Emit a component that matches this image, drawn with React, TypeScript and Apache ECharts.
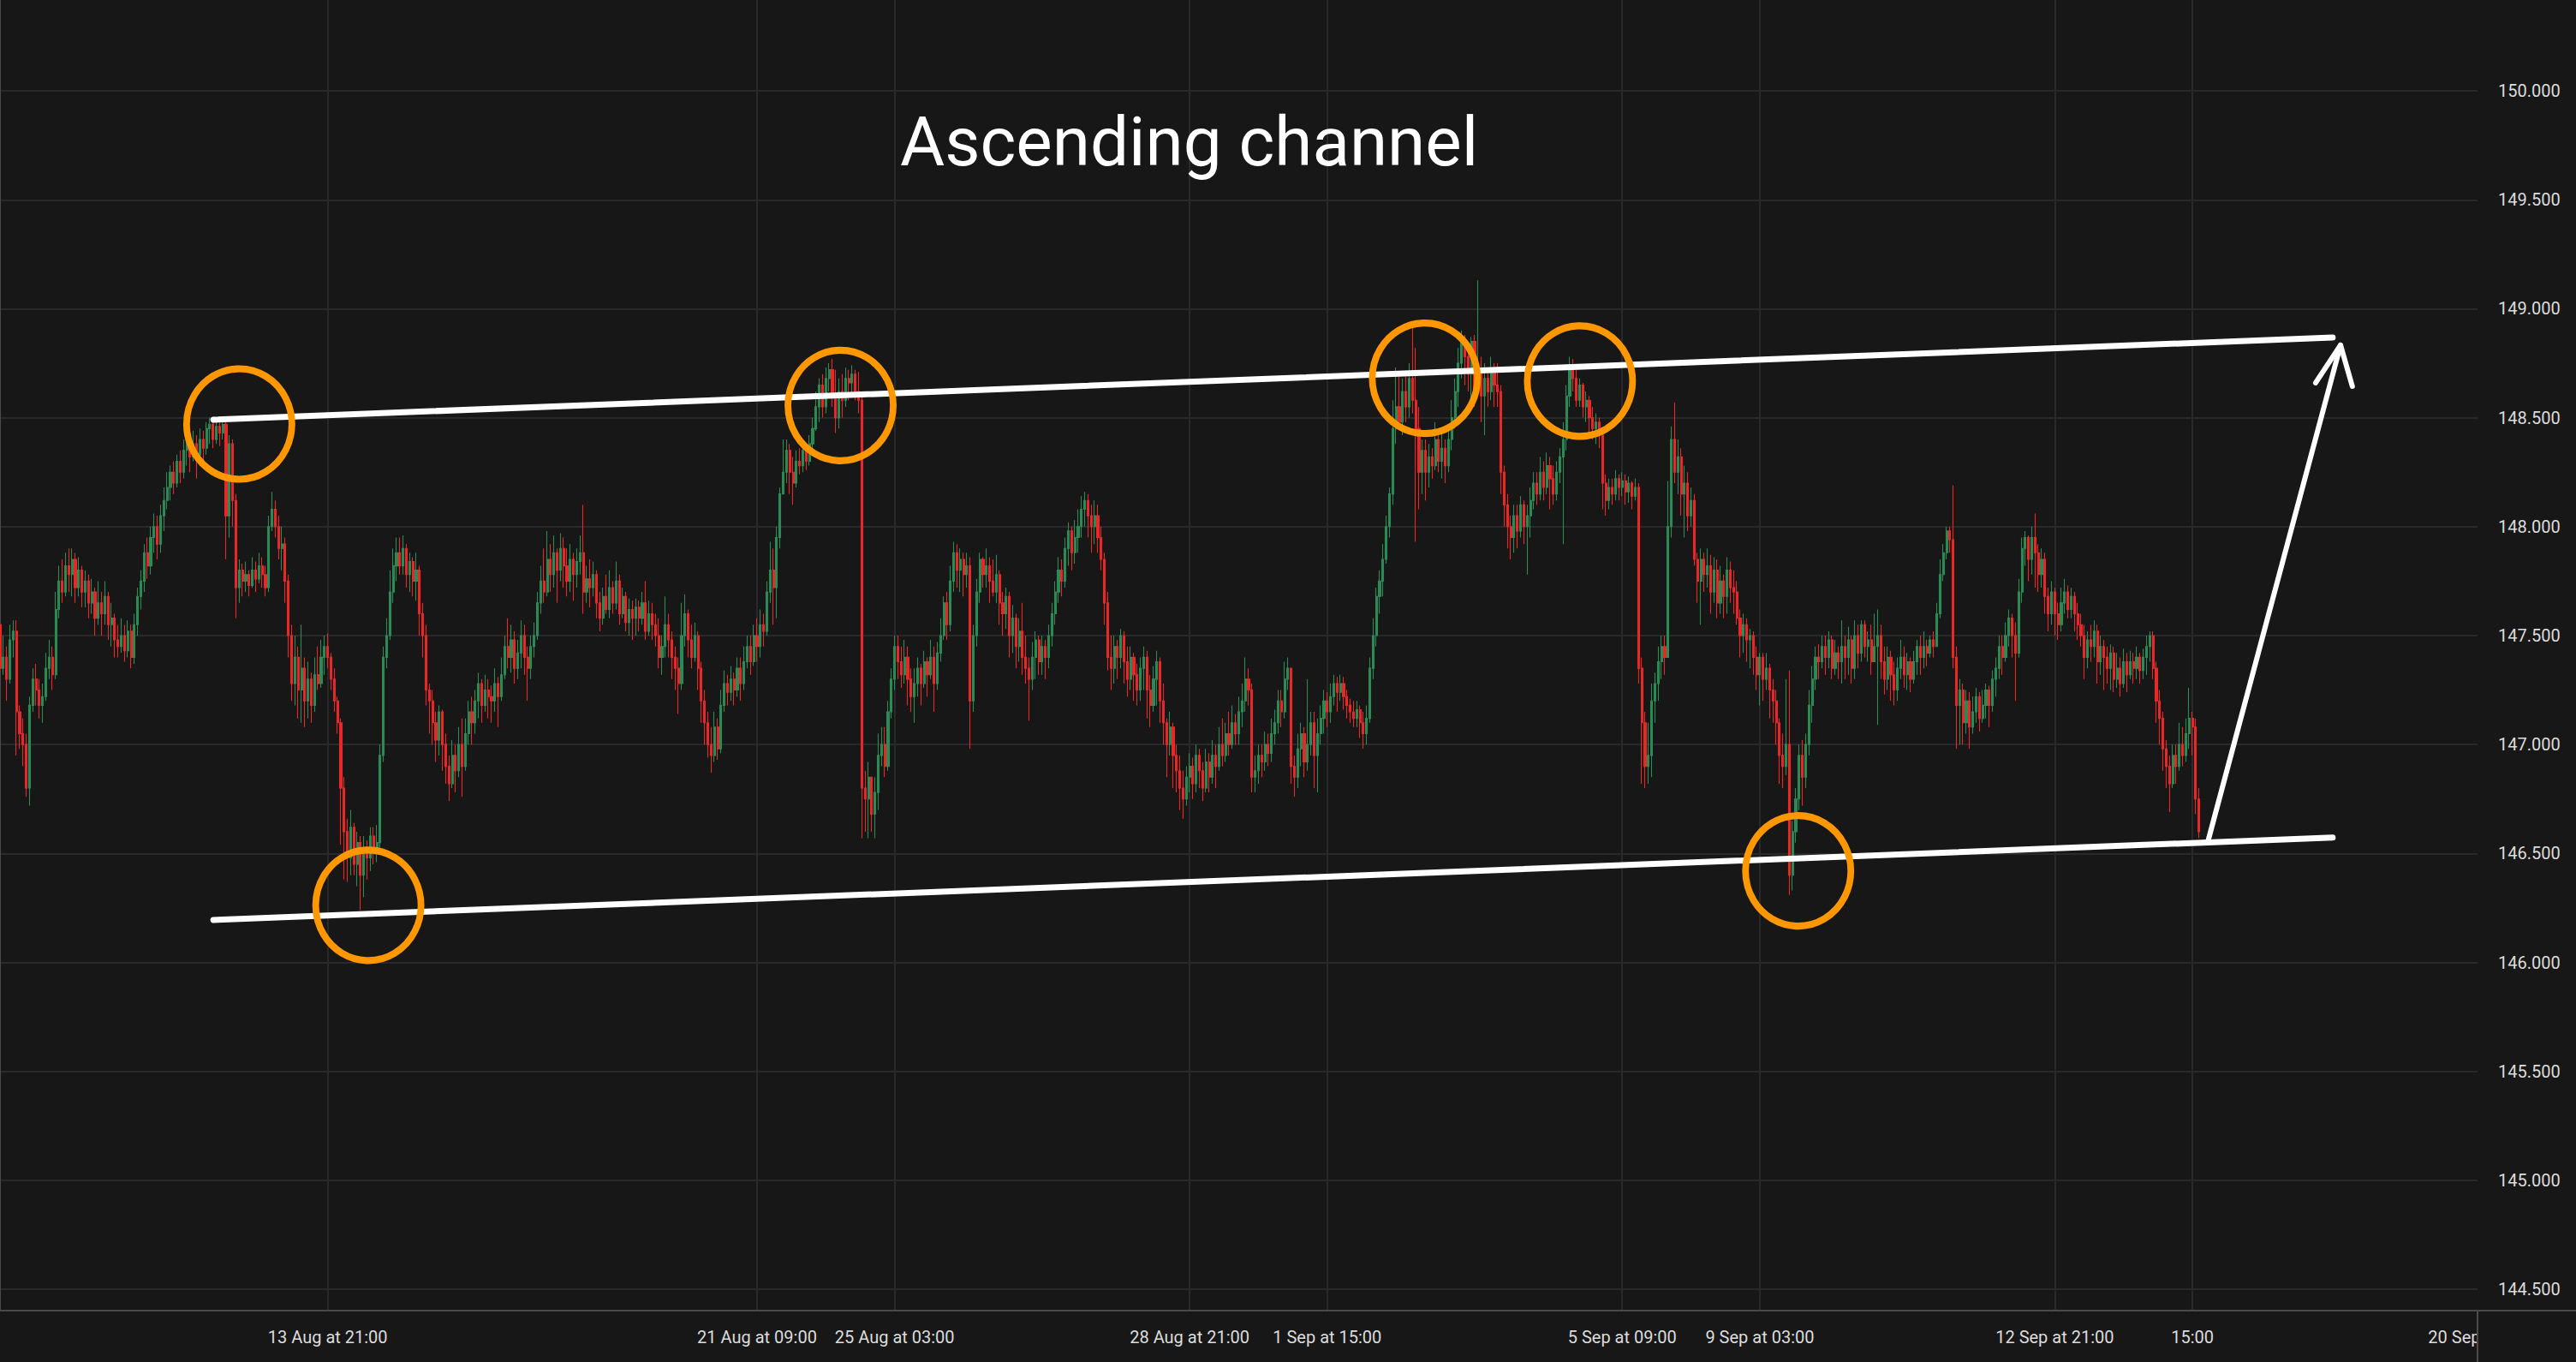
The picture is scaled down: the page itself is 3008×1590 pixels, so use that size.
import React, { useEffect, useRef } from 'react';
import * as echarts from 'echarts';

// Hourly candles. Each triple = close, high, low in hundredths of a yen above PRICE_BASE.
// The open of each candle is the previous candle's close.
const PRICE_BASE = 146;
const FIRST_OPEN = 155;

const chunk1 = [
  135,157,128, 140,150,132, 130,145,120, 148,155,128, 152,157,140, 115,157,95, 105,118,98, 100,112,90, 80,105,76, 118,122,72,
  130,135,115, 125,137,118, 118,130,112, 122,128,110, 135,142,120, 140,148,130, 132,145,125, 162,170,130, 175,182,158, 170,185,165,
  182,188,168, 178,190,170, 185,190,168, 172,188,165, 180,186,168, 170,182,163, 175,180,163, 165,178,158, 170,176,160, 158,172,150,
  165,175,155, 160,170,150, 168,175,155, 155,170,148, 158,165,145, 148,160,140, 145,155,140, 150,158,142, 143,155,138, 152,157,140,
  140,155,135, 155,160,137, 168,172,150, 175,180,162, 188,192,170, 182,195,176, 195,200,178, 200,206,188, 192,205,185, 205,210,188,
  212,218,198, 218,225,208, 225,228,212, 220,230,215, 230,233,218, 225,235,220, 235,240,222, 240,245,228, 232,245,225, 238,244,230,
  233,242,222, 240,245,228, 236,244,230, 245,248,233, 247,250,238, 240,249,236, 246,250,238, 243,248,237, 247,250,240, 205,249,185,
  238,242,195, 212,240,200, 172,215,158, 180,185,165, 175,183,168, 178,184,170, 173,180,168, 180,186,172, 176,184,170, 182,188,174,
  178,186,172, 172,182,168, 200,205,170, 208,216,198,
];
const chunk2 = [
  200,212,195, 190,205,185, 192,200,180, 175,195,165, 150,178,140, 128,155,120, 140,150,118, 125,145,112, 135,155,110, 120,140,108,
  130,138,112, 118,133,110, 132,140,115, 128,145,125, 140,148,126, 145,150,132, 140,151,135, 130,142,125, 120,135,115, 110,122,105,
  80,112,54, 60,85,38, 48,66,37, 62,70,40, 45,64,40, 55,60,35, 40,58,24, 50,58,30, 48,56,38, 58,62,42,
  52,62,45, 55,63,46, 95,100,50, 140,145,92, 150,158,135, 170,180,148, 182,190,165, 188,195,175, 182,195,178, 190,196,178,
  178,192,172, 184,188,170, 175,186,168, 180,188,166, 160,182,150, 150,165,140, 125,155,118, 120,128,105, 110,125,100, 102,115,92,
  115,118,95, 100,116,88, 90,105,82, 82,95,74, 95,102,80, 88,100,78, 100,108,85, 90,112,76, 105,112,88, 115,120,100,
  110,122,100, 120,125,105, 128,133,112, 118,130,110, 125,132,115, 122,130,112, 120,127,110, 128,135,115, 122,131,108, 132,140,120,
  145,150,130, 140,158,135, 148,155,133, 135,152,128, 142,148,130, 150,157,135, 140,155,132, 135,145,120, 145,150,130, 150,156,140,
  165,170,148, 175,182,160, 170,190,165, 185,198,168,
];
const chunk3 = [
  178,192,170, 188,196,172, 180,190,165, 190,197,175, 182,195,172, 175,190,168, 185,192,170, 178,188,166, 184,190,172, 188,196,178,
  170,210,160, 176,182,165, 172,185,163, 178,184,168, 165,180,158, 158,170,152, 168,172,155, 162,178,160, 172,180,158, 165,175,160,
  175,184,162, 160,178,155, 168,172,158, 156,170,152, 162,167,150, 158,166,148, 163,167,150, 158,166,152, 165,170,155, 152,175,148,
  160,166,150, 155,165,148, 150,160,145, 140,158,135, 145,150,132, 155,168,140, 148,160,140, 140,152,130, 135,145,125, 128,140,114,
  150,165,125, 160,169,145, 148,162,140, 140,155,135, 150,156,138, 135,152,125, 120,138,110, 110,125,100, 100,115,94, 95,108,87,
  108,115,92, 98,112,93, 118,125,96, 128,134,115, 124,132,118, 130,136,120, 125,133,118, 135,140,122, 128,140,120, 138,145,125,
  145,150,135, 138,150,132, 150,155,136, 145,158,138, 155,162,140, 152,160,145, 170,175,150, 180,193,165, 172,190,155, 195,200,158,
  215,218,190, 225,240,215, 235,240,220, 225,238,215, 220,232,210, 230,235,218, 228,236,224, 235,238,225, 230,237,226, 238,242,228,
  245,250,235, 255,262,244, 265,268,248, 255,270,250,
];
const chunk4 = [
  268,273,252, 272,275,262, 260,277,255, 250,272,243, 262,268,245, 258,270,250, 268,273,255, 266,272,258, 270,274,260, 262,272,258,
  258,271,252, 80,262,57, 75,88,60, 85,92,57, 68,82,60, 78,85,57, 95,105,70, 100,108,90, 90,108,85, 115,120,88,
  130,135,112, 145,150,125, 138,150,130, 132,145,126, 140,148,128, 130,145,118, 122,135,115, 128,135,110, 135,140,122, 128,137,118,
  138,143,126, 132,140,122, 140,148,130, 128,145,115, 142,147,125, 150,158,138, 165,168,148, 155,170,148, 175,182,152, 188,193,170,
  180,192,172, 185,190,170, 178,188,168, 182,188,172, 120,186,98, 150,155,115, 170,176,145, 185,188,165, 178,186,172, 182,190,172,
  175,186,165, 170,185,168, 178,187,165, 165,180,155, 160,170,150, 168,172,153, 150,170,140, 158,164,142, 145,160,135, 152,158,138,
  140,165,132, 135,150,128, 130,140,111, 140,147,125, 148,152,130, 138,150,132, 145,150,132, 140,148,130, 150,155,135, 160,165,145,
  170,175,155, 180,186,165, 175,185,168, 190,195,172, 198,202,182, 188,200,180, 195,203,183, 200,208,188, 208,214,195, 212,216,200,
  205,215,195, 200,210,188, 205,212,192, 195,210,188,
];
const chunk5 = [
  185,200,180, 165,188,155, 140,170,134, 135,150,125, 145,150,128, 140,148,130, 150,153,135, 138,152,128, 130,145,122, 140,145,125,
  132,142,120, 125,137,118, 135,140,120, 140,145,125, 125,143,112, 118,132,108, 130,136,115, 138,143,118, 120,140,110, 110,128,100,
  100,112,85, 108,115,95, 95,110,80, 88,100,78, 80,95,70, 75,88,66, 85,90,72, 90,96,78, 82,94,75, 95,100,78,
  88,98,80, 80,92,74, 92,98,78, 85,96,78, 95,102,82, 90,100,80, 100,108,88, 95,112,90, 105,110,92, 100,115,95,
  110,118,98, 105,114,100, 115,122,100, 120,128,108, 130,140,115, 125,135,118, 85,128,78, 88,95,78, 95,100,82, 92,100,85,
  100,106,88, 96,105,90, 105,112,92, 110,116,100, 120,125,105, 115,125,108, 130,138,112, 135,140,125, 90,130,82, 85,95,76,
  98,105,80, 105,110,90, 92,108,85, 100,130,88, 110,115,95, 95,115,80, 105,112,78, 112,118,100, 120,125,105, 115,124,108,
  122,128,110, 128,132,118, 124,131,115, 128,132,120, 122,131,116, 118,125,112, 115,121,110, 112,120,108, 116,120,108, 110,118,103,
  105,115,98, 112,118,100, 135,140,110, 150,158,130,
];
const chunk6 = [
  168,172,145, 175,180,160, 185,192,168, 200,205,183, 215,218,195, 245,258,210, 255,273,238, 248,270,245, 262,268,242, 255,270,248,
  268,275,250, 258,292,252, 245,282,193, 225,255,208, 235,240,215, 225,240,212, 232,238,218, 228,236,222, 240,248,226, 230,242,225,
  236,245,222, 228,240,220, 240,245,225, 250,258,235, 262,268,245, 275,282,255, 285,290,268, 278,288,265, 270,283,262, 285,287,255,
  262,288,255, 272,313,260, 260,278,248, 268,275,242, 262,272,255, 272,278,258, 265,275,255, 262,275,255, 225,265,215, 210,228,200,
  200,215,190, 195,205,185, 205,210,188, 198,210,190, 210,214,195, 200,212,192, 205,210,178, 212,218,195, 220,225,208, 215,225,210,
  225,232,212, 218,230,212, 228,234,215, 222,232,208, 215,228,210, 225,230,212, 232,236,220, 240,248,192, 260,265,235, 272,278,255,
  268,277,262, 258,272,255, 265,268,255, 255,266,250, 258,262,248, 250,260,242, 245,255,240, 248,252,238, 242,250,236, 220,245,208,
  212,224,205, 218,222,208, 215,222,210, 222,226,212, 218,224,212, 221,225,214, 216,224,210, 220,223,211, 214,221,208, 218,222,212,
  135,220,128, 110,140,82, 90,115,80, 95,110,82,
];
const chunk7 = [
  120,128,85, 128,133,110, 138,145,120, 145,150,130, 140,150,132, 200,221,140, 240,246,195, 225,257,220, 232,240,215, 215,236,205,
  220,228,195, 205,225,198, 212,218,200, 185,215,182, 175,188,165, 185,190,155, 178,188,170, 182,190,172, 170,187,160, 180,186,165,
  165,185,158, 175,182,160, 168,178,158, 180,186,160, 172,184,165, 170,180,160, 158,175,155, 150,162,140, 155,160,142, 148,158,138,
  150,153,135, 140,152,132, 132,145,125, 140,142,118, 130,142,120, 135,142,125, 125,137,112, 120,130,110, 110,125,100, 95,112,82,
  90,105,80, 100,130,86, 40,134,31, 60,65,33, 75,80,55, 95,100,70, 85,102,72, 100,105,80, 118,125,95, 130,136,110,
  140,145,125, 138,146,130, 145,150,135, 140,150,132, 148,152,135, 135,150,130, 142,148,132, 138,145,130, 145,157,128, 140,150,130,
  148,154,132, 135,150,128, 150,157,130, 142,155,135, 155,157,138, 145,157,140, 148,152,138, 138,155,132, 145,160,138, 150,162,109,
  138,155,130, 130,145,123, 140,145,125, 132,143,120, 125,138,118, 135,140,120, 140,148,130, 132,145,126, 138,142,125, 130,140,124,
  138,143,128, 145,148,132, 140,150,132, 145,152,135,
];
const chunk8 = [
  142,148,136, 148,150,140, 145,152,140, 160,165,145, 178,185,158, 188,192,175, 198,200,185, 194,200,188, 140,219,135, 118,145,98,
  125,130,100, 110,128,100, 120,125,105, 108,124,98, 115,122,105, 122,126,110, 112,124,106, 118,125,110, 125,128,112, 118,127,108,
  130,134,115, 135,140,122, 145,150,130, 140,150,132, 150,156,138, 158,162,145, 150,160,140, 142,156,120, 170,176,140, 190,195,165,
  195,198,182, 185,196,175, 195,200,178, 188,206,172, 178,192,170, 185,190,172, 168,188,160, 160,172,152, 170,175,155, 160,172,150,
  155,165,148, 165,172,152, 170,176,160, 162,173,158, 168,172,158, 160,170,152, 155,165,148, 150,160,145, 140,155,130, 148,152,135,
  145,155,138, 152,157,140, 138,155,128, 145,150,132, 140,148,125, 135,145,128, 142,146,125, 130,145,124, 135,142,126, 128,140,122,
  138,144,126, 132,142,124, 138,143,130, 135,142,128, 140,145,130, 134,142,128, 140,144,130, 145,150,132, 150,152,138, 135,152,130,
  120,138,110, 112,125,100, 98,115,88, 90,102,80, 82,95,69, 95,100,80, 90,100,82, 100,110,88, 95,108,90, 105,112,92,
  112,126,98, 108,115,95, 75,112,68, 60,80,57,
];

// Time axis: one slot per hourly candle, extended to the right edge.
const N_SLOTS = 757;
const labelSlots = [100, 231, 273, 363, 405, 495, 537, 627, 669];
const labelTexts = ['13 Aug at 21:00', '21 Aug at 09:00', '25 Aug at 03:00', '28 Aug at 21:00', '1 Sep at 15:00', '5 Sep at 09:00', '9 Sep at 03:00', '12 Sep at 21:00', '15:00'];
const clippedLabelSlot = 759;
const clippedLabelText = '20 Sep at 09:00';

const Y_MIN = 144.402;
const Y_MAX = 150.417;

// Annotations in (slot, price)
const upperChannel = [[65.1, 148.491], [711.8, 148.868]];
const lowerChannel = [[65.1, 146.195], [711.8, 146.573]];
const arrowShaft = [[673.7, 146.553], [714.2, 148.833]];
const arrowHead = [[706.6, 148.66], [714.2, 148.833], [717.8, 148.644]];
const touchPoints = [[73.0, 148.471], [112.4, 146.262], [256.5, 148.556], [434.8, 148.681], [482.1, 148.668], [548.7, 146.42]];

const BG = '#171717';
const GRID = '#29292c';
const AXIS = '#4a4a4a';
const TEXT = '#dcdcdc';
const UP = '#2b8a55';
const DOWN = '#e82828';
const ORANGE = '#ff9800';
const FONT = 'Roboto';

function buildCandles() {
  const flat = [chunk1, chunk2, chunk3, chunk4, chunk5, chunk6, chunk7, chunk8].flat();
  const out: number[][] = [];
  let prev = PRICE_BASE + FIRST_OPEN / 100;
  for (let k = 0; k < flat.length; k += 3) {
    const c = PRICE_BASE + flat[k] / 100;
    const h = PRICE_BASE + flat[k + 1] / 100;
    const l = PRICE_BASE + flat[k + 2] / 100;
    const o = prev;
    out.push([o, c, Math.min(l, o, c), Math.max(h, o, c)]);
    prev = c;
  }
  return out;
}

export default function App() {
  const ref = useRef<HTMLDivElement>(null);
  useEffect(() => {
    if (!ref.current) return;
    const chart = echarts.init(ref.current, null, { renderer: 'svg' });
    const labelMap = new Map<number, string>();
    labelSlots.forEach((s, i) => labelMap.set(s, labelTexts[i]));
    const slots = Array.from({ length: N_SLOTS }, (_, k) => String(k));
    const candles = buildCandles();
    const isHalf = (v: number) => Math.abs(v * 2 - Math.round(v * 2)) < 1e-6;
    const lineSeries = (name: string, data: number[][], width: number) => ({
      name,
      type: 'line',
      xAxisIndex: 1,
      yAxisIndex: 0,
      data,
      symbol: 'none',
      clip: false,
      silent: true,
      z: 5,
      lineStyle: { color: '#ffffff', width, cap: 'round', join: 'round' },
    });
    chart.setOption({
      animation: false,
      backgroundColor: BG,
      textStyle: { fontFamily: FONT },
      title: {
        text: 'Ascending channel',
        left: 1046,
        top: 121,
        textStyle: { color: '#ffffff', fontSize: 80, fontWeight: 'normal', fontFamily: FONT },
      },
      grid: { left: 0, right: 115, top: 0, bottom: 60, containLabel: false },
      xAxis: [
        {
          type: 'category',
          data: slots,
          boundaryGap: false,
          axisLine: { show: true, lineStyle: { color: AXIS, width: 2 } },
          axisTick: { show: false },
          axisLabel: {
            interval: (idx: number) => labelMap.has(idx),
            formatter: (_v: string, idx: number) => labelMap.get(idx) ?? '',
            color: TEXT,
            fontSize: 20,
            margin: 21,
            fontFamily: FONT,
          },
          splitLine: { show: true, interval: (idx: number) => labelMap.has(idx), lineStyle: { color: GRID, width: 2 } },
        },
        { type: 'value', min: 0, max: N_SLOTS - 1, show: false },
      ],
      yAxis: {
        type: 'value',
        position: 'right',
        min: Y_MIN,
        max: Y_MAX,
        minInterval: 0.5,
        maxInterval: 0.5,
        splitNumber: 12,
        axisLine: { show: true, lineStyle: { color: AXIS, width: 2 } },
        axisTick: { show: false },
        axisLabel: {
          formatter: (v: number) => (isHalf(v) ? v.toFixed(3) : ''),
          color: TEXT,
          fontSize: 20,
          margin: 24,
          fontFamily: FONT,
        },
        splitLine: { show: true, showMinLine: false, showMaxLine: false, lineStyle: { color: GRID, width: 2 } },
      },
      series: [
        {
          name: 'USDJPY',
          type: 'candlestick',
          xAxisIndex: 0,
          yAxisIndex: 0,
          large: false,
          barWidth: 2.6,
          data: candles,
          z: 2,
          itemStyle: { color: UP, color0: DOWN, borderColor: UP, borderColor0: DOWN, borderWidth: 1.1 },
        },
        lineSeries('Upper channel', upperChannel, 7),
        lineSeries('Lower channel', lowerChannel, 7),
        lineSeries('Arrow', arrowShaft, 6),
        lineSeries('Arrow head', arrowHead, 6),
        {
          name: 'Touches',
          type: 'scatter',
          xAxisIndex: 1,
          yAxisIndex: 0,
          data: touchPoints,
          symbol: 'circle',
          symbolSize: [123, 129],
          clip: false,
          silent: true,
          z: 6,
          itemStyle: { color: 'rgba(0,0,0,0)', borderColor: ORANGE, borderWidth: 8, opacity: 1 },
        },
      ],
    });
    // Frame extensions and the clipped last time label, placed via the axes.
    const gx = chart.convertToPixel({ xAxisIndex: 1 }, clippedLabelSlot) as number;
    const axisX = chart.convertToPixel({ xAxisIndex: 1 }, N_SLOTS - 1) as number;
    const axisY = chart.convertToPixel({ yAxisIndex: 0 }, Y_MIN) as number;
    const W = chart.getWidth();
    const H = chart.getHeight();
    chart.setOption({
      graphic: [
        {
          type: 'text',
          x: gx,
          y: axisY + 21,
          z: 100,
          style: { text: clippedLabelText, fill: TEXT, fontSize: 20, fontFamily: FONT, textAlign: 'center', align: 'center', textVerticalAlign: 'top', verticalAlign: 'top' },
        },
        { type: 'rect', z: 101, shape: { x: axisX + 1, y: axisY + 1, width: W - axisX, height: H - axisY }, style: { fill: BG } },
        { type: 'line', z: 102, shape: { x1: axisX, y1: axisY, x2: axisX, y2: H }, style: { stroke: AXIS, lineWidth: 2 } },
        { type: 'line', z: 102, shape: { x1: axisX, y1: axisY, x2: W, y2: axisY }, style: { stroke: AXIS, lineWidth: 2 } },
      ],
    });
    return () => chart.dispose();
  }, []);
  return <div ref={ref} style={{ position: 'fixed', left: 0, top: 0, width: 3008, height: 1590 }} />;
}
